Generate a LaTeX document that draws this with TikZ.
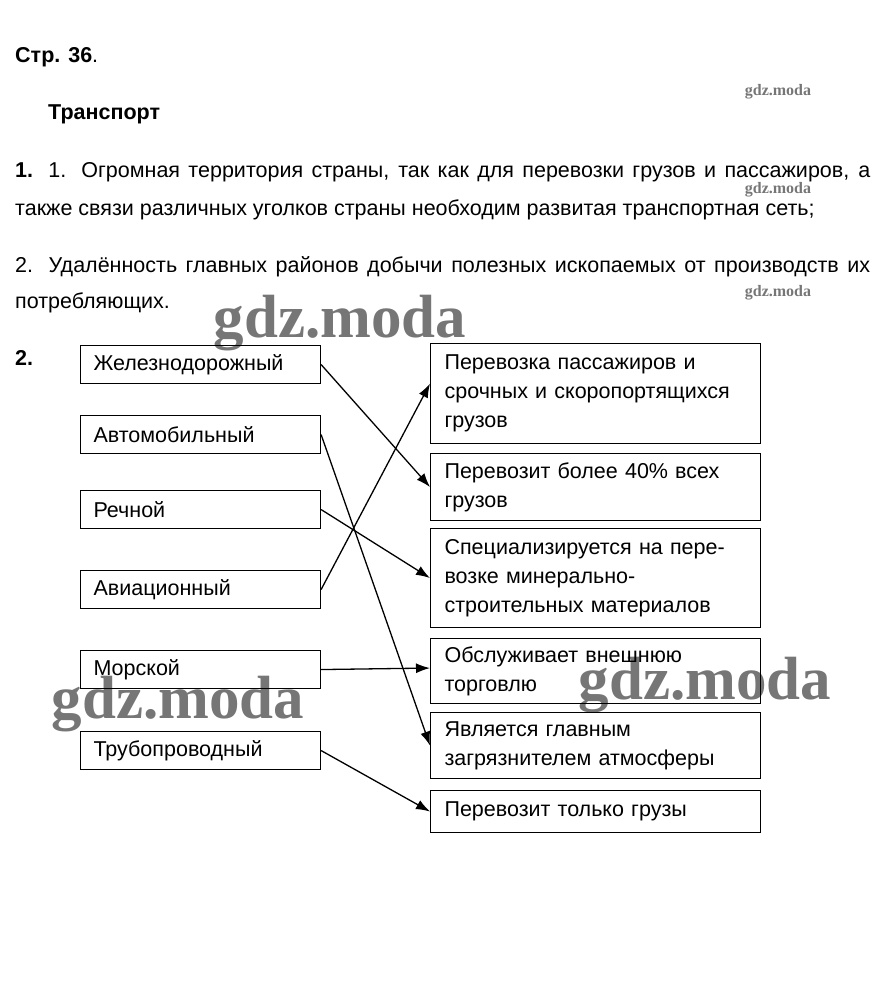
\documentclass[tikz,border=0pt]{standalone}
\usepackage{fontspec}
\setmainfont{Liberation Sans}
\newfontfamily\wmfont{Liberation Serif}
\usetikzlibrary{arrows.meta,positioning}
\definecolor{WmGray}{RGB}{118,118,118}

\begin{document}
\begin{tikzpicture}[x=1pt,y=-1pt,
  txt/.style={anchor=base west,inner sep=0pt,font=\fontsize{21.5}{29}\selectfont},
  lbox/.style={
    draw,line width=1.1pt,anchor=north west,align=left,
    text width=214pt,inner xsep=13pt,inner ysep=0pt,
    minimum height=38pt,font=\fontsize{21.5}{29}\selectfont
  },
  rbox/.style={
    draw,line width=1.1pt,anchor=north west,align=left,
    text width=302pt,inner xsep=14pt,inner ysep=0pt,
    font=\fontsize{21.5}{29}\selectfont
  },
  arr/.style={-{Latex[length=14pt,width=10pt]},line width=1.3pt},
  wmbig/.style={anchor=base,text=WmGray,font=\wmfont\bfseries\fontsize{61}{61}\selectfont},
  wmsmall/.style={anchor=base,text=WmGray,font=\wmfont\bfseries\fontsize{16}{16}\selectfont}
]
  \useasboundingbox (0,0) rectangle (884,984);

  % watermarks
  \node[wmsmall] (wm1) at (778,96) {gdz.moda};
  \node[wmsmall] (wm2) at (778,194) {gdz.moda};
  \node[wmsmall] (wm3) at (778,296) {gdz.moda};
  \node[wmbig] (wm4) at (340,337) {gdz.moda};
  \node[wmbig] (wm5) at (178,718) {gdz.moda};
  \node[wmbig] (wm6) at (705,699) {gdz.moda};

  % heading and answers
  \node[txt] (page) at (15,63) {\textbf{Стр. 36}.};
  \node[txt] (title) at (48,120) {\textbf{Транспорт}};
  \node[txt] (p1a) at (15,178)
    {\makebox[855pt][s]{\textbf{1.} 1. Огромная территория страны, так как для перевозки грузов и пассажиров, а}};
  \node[txt] (p1b) at (15,215)
    {также связи различных уголков страны необходим развитая транспортная сеть;};
  \node[txt] (p2a) at (15,272)
    {\makebox[855pt][s]{2. Удалённость главных районов добычи полезных ископаемых от производств их}};
  \node[txt] (p2b) at (15,308) {потребляющих.};
  \node[txt] (q2) at (15,365) {\textbf{2.}};

  % kinds of transport
  \node[lbox] (rail) at (80,345) {Железнодорожный};
  \node[lbox] (auto) at (80,415) {Автомобильный};
  \node[lbox] (river) at (80,490) {Речной};
  \node[lbox] (air) at (80,570) {Авиационный};
  \node[lbox] (sea) at (80,650) {Морской};
  \node[lbox] (pipe) at (80,731) {Трубопроводный};

  % features
  \node[rbox,minimum height=100pt] (f1) at (430,343)
    {Перевозка пассажиров и\\срочных и скоропортящихся\\грузов};
  \node[rbox,minimum height=67pt] (f2) at (430,453)
    {Перевозит более 40\% всех\\грузов};
  \node[rbox,minimum height=99pt] (f3) at (430,528)
    {Специализируется на пере-\\возке минерально-\\строительных материалов};
  \node[rbox,minimum height=65pt] (f4) at (430,638)
    {Обслуживает внешнюю\\торговлю};
  \node[rbox,minimum height=66pt] (f5) at (430,712)
    {Является главным\\загрязнителем атмосферы};
  \node[rbox,minimum height=42pt] (f6) at (430,790)
    {Перевозит только грузы};

  \draw[arr] (rail.east) -- (f2.west);
  \draw[arr] (auto.east) -- (f5.west);
  \draw[arr] (river.east) -- (f3.west);
  \draw[arr] (air.east) -- ([yshift=10pt]f1.west);
  \draw[arr] (sea.east) -- ([yshift=3pt]f4.west);
  \draw[arr] (pipe.east) -- (f6.west);
\end{tikzpicture}
\end{document}
